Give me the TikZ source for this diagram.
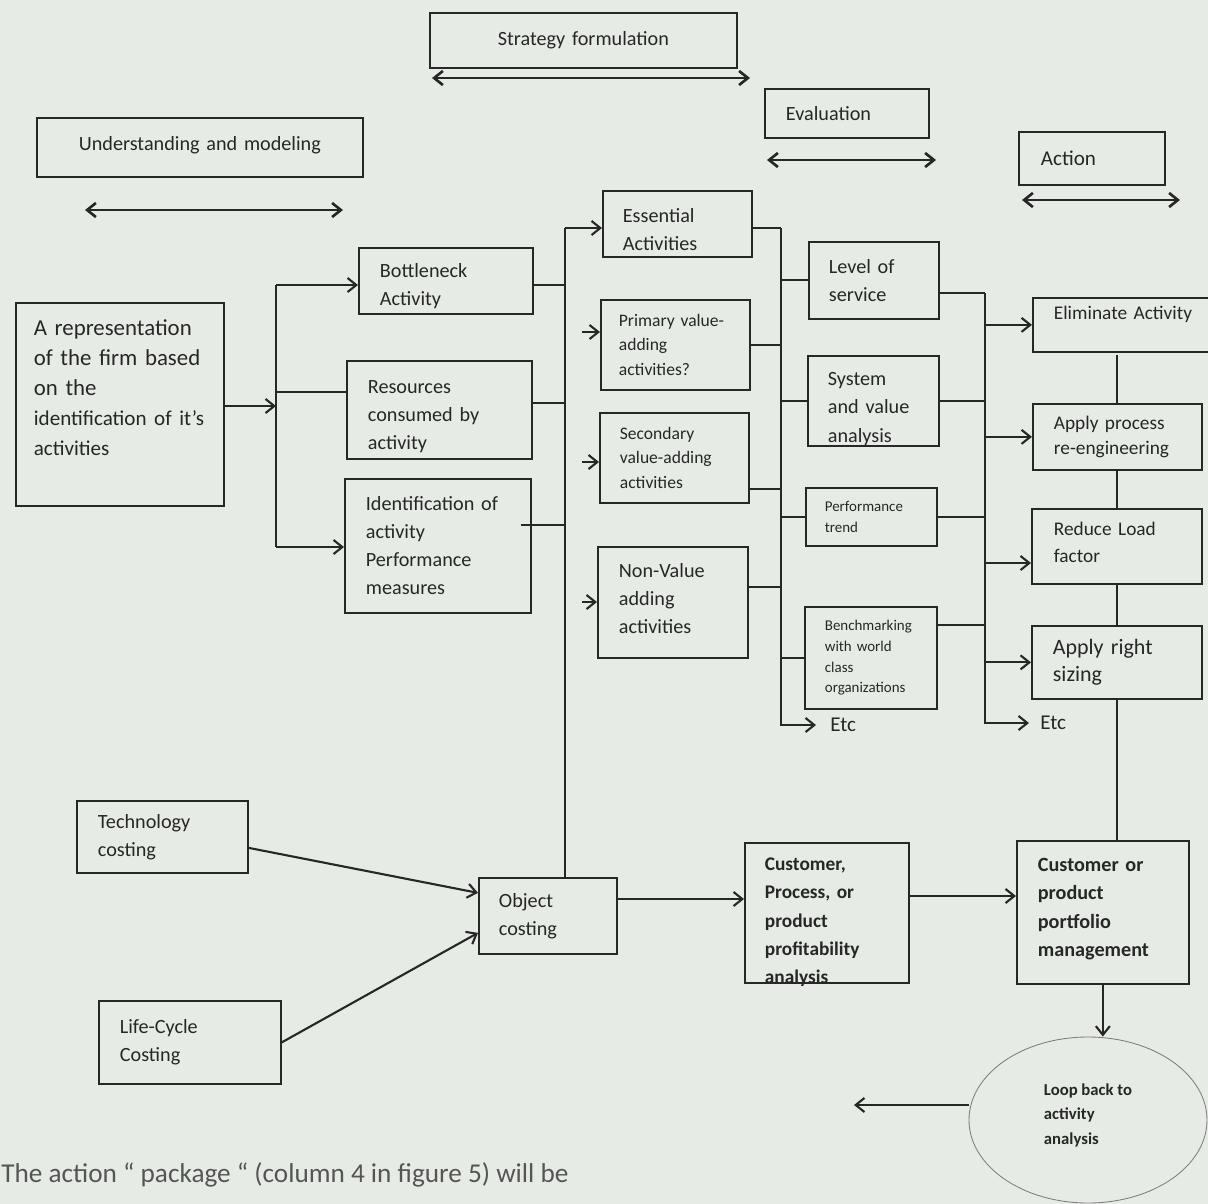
\documentclass[tikz,border=0pt]{standalone}
\usepackage{fontspec}
\setmainfont{Carlito}
\usetikzlibrary{arrows.meta,shapes.geometric}
\definecolor{paper}{RGB}{231,235,229}
\definecolor{ink}{RGB}{38,40,38}
\definecolor{faded}{RGB}{84,86,84}
\newdimen\pxu \pxu=0.02cm

\begin{document}
\begin{tikzpicture}[x=0.02cm, y=-0.02cm,
	box/.style={draw=ink, line width=1pt, anchor=north west, inner ysep=0pt, align=left, text=ink, font=\fontsize{11.5}{16}\selectfont},
	mid/.style={font=\fontsize{10}{13.8}\selectfont},
	small/.style={font=\fontsize{8.5}{11.8}\selectfont},
	line/.style={draw=ink, line width=1.2pt},
	arr/.style={line, -{Straight Barb[length=5pt,width=8pt]}},
	both/.style={line, line width=1.5pt, {Straight Barb[length=5pt,width=8pt]}-{Straight Barb[length=5pt,width=8pt]}}]

	% paper
	\fill[paper] (0,0) rectangle (1208,1204);
	\useasboundingbox (0,0) rectangle (1208,1204);

	% column headers
	\node[box, align=center, inner xsep=10\pxu, text width=287\pxu, minimum height=55\pxu] (strat) at (429,12) {Strategy formulation};
	\node[box, align=center, inner xsep=10\pxu, text width=306\pxu, minimum height=59\pxu] (under) at (36,117) {Understanding and modeling\rule[-8\pxu]{0pt}{0pt}};
	\node[box, inner xsep=21\pxu, text width=122\pxu, minimum height=49\pxu] (evalb) at (764,88) {Evaluation};
	\node[box, inner xsep=22\pxu, text width=102\pxu, minimum height=53\pxu, font=\fontsize{12}{16}\selectfont] (actb) at (1018,131) {Action};

	\coordinate (sL) at (432,78);  \coordinate (sR) at (750,78);
	\coordinate (uL) at (85,210);  \coordinate (uR) at (343,210);
	\coordinate (eL) at (767,160); \coordinate (eR) at (936,160);
	\coordinate (aL) at (1022,200); \coordinate (aR) at (1180,200);
	\draw[both] (sL) -- (sR);
	\draw[both] (uL) -- (uR);
	\draw[both] (eL) -- (eR);
	\draw[both] (aL) -- (aR);

	% understanding and modeling
	\node[box, inner xsep=18\pxu, text width=172\pxu, minimum height=203\pxu, font=\fontsize{13}{17}\selectfont] (repr) at (15,302)
		{A representation\\of the firm based\\on the\\\fontsize{12}{17}\selectfont identification of it’s\\activities\rule[-34\pxu]{0pt}{0pt}};
	\node[box, inner xsep=21\pxu, text width=132\pxu, minimum height=66\pxu] (bneck) at (358,247) {\rule{0pt}{14pt}Bottleneck\\Activity};
	\node[box, inner xsep=21\pxu, text width=143\pxu, minimum height=98\pxu] (res) at (346,360) {\rule{0pt}{15pt}Resources\\consumed by\\activity};
	\node[box, inner xsep=21\pxu, text width=144\pxu, minimum height=134\pxu] (ident) at (344,478) {Identification of\\activity\\Performance\\measures};

	\node[box, inner xsep=21\pxu, text width=129\pxu, minimum height=72\pxu] (tech) at (76,800) {Technology\\costing};
	\node[box, inner xsep=21\pxu, text width=140\pxu, minimum height=83\pxu] (life) at (98,1000) {Life-Cycle\\Costing};
	\node[box, inner xsep=20\pxu, text width=98\pxu, minimum height=76\pxu] (obj) at (478,877) {Object\\costing};

	% strategy formulation
	\node[box, inner xsep=20\pxu, text width=109\pxu, minimum height=66\pxu] (ess) at (602,190) {\rule{0pt}{14pt}Essential\\Activities};
	\node[box, mid, inner xsep=18\pxu, text width=113\pxu, minimum height=90\pxu] (prim) at (600,299) {Primary value-\\adding\\activities?};
	\node[box, mid, inner xsep=20\pxu, text width=109\pxu, minimum height=90\pxu] (sec) at (599,412) {Secondary\\value-adding\\activities};
	\node[box, inner xsep=21\pxu, text width=108\pxu, minimum height=111\pxu] (nonv) at (597,546) {Non-Value\\adding\\activities\rule[-8\pxu]{0pt}{0pt}};

	% evaluation
	\node[box, inner xsep=20\pxu, text width=90\pxu, minimum height=77\pxu] (lvl) at (808,241) {Level of\\service};
	\node[box, inner xsep=20\pxu, text width=91\pxu, minimum height=90\pxu, text height=30\pxu, text depth=60\pxu] (sys) at (807,355) {System\\and value\\analysis};
	\node[box, small, inner xsep=19\pxu, text width=93\pxu, minimum height=58\pxu] (perf) at (805,487) {Performance\\trend};
	\node[box, small, inner xsep=20\pxu, text width=92\pxu, minimum height=102\pxu] (bench) at (804,606) {Benchmarking\\with world\\class\\organizations};

	% action
	\node[box, inner xsep=21\pxu, text width=150\pxu, minimum height=54\pxu, font=\fontsize{11}{15}\selectfont] (elim) at (1032,297) {Eliminate Activity\rule[-24\pxu]{0pt}{0pt}};
	\node[box, inner xsep=21\pxu, text width=127\pxu, minimum height=66\pxu, font=\fontsize{11}{14.5}\selectfont] (proc) at (1032,403) {Apply process\\re-engineering};
	\node[box, inner xsep=22\pxu, text width=126\pxu, minimum height=75\pxu, font=\fontsize{11}{15.5}\selectfont] (redu) at (1031,508) {Reduce Load\\factor\rule[-8\pxu]{0pt}{0pt}};
	\node[box, inner xsep=21\pxu, text width=128\pxu, minimum height=73\pxu, font=\fontsize{12.5}{15.5}\selectfont] (rsize) at (1031,625) {Apply right\\sizing};

	% bottom row
	\node[box, inner xsep=20\pxu, text width=124\pxu, minimum height=140\pxu, text height=28\pxu, text depth=112\pxu, font=\bfseries\fontsize{11}{16}\selectfont] (cust) at (744,842) {Customer,\\Process, or\\product\\profitability\\analysis};
	\node[box, inner xsep=21\pxu, text width=130\pxu, minimum height=143\pxu, font=\bfseries\fontsize{11.5}{16.2}\selectfont] (port) at (1016,840) {Customer or\\product\\portfolio\\management\rule[-10\pxu]{0pt}{0pt}};
	\node[ellipse, draw=gray, line width=0.5pt, minimum width=238\pxu, minimum height=166\pxu, inner sep=0pt, align=left, text=ink, font=\bfseries\fontsize{9.5}{14}\selectfont] (loop) at (1088,1120) {Loop back to\\activity\\analysis\rule[-12\pxu]{0pt}{0pt}};

	\node[anchor=west, inner xsep=14\pxu, inner ysep=0pt, text=ink, font=\fontsize{12}{14}\selectfont] (etc1) at (816,725) {Etc};
	\node[anchor=west, inner xsep=11\pxu, inner ysep=0pt, text=ink, font=\fontsize{12}{14}\selectfont] (etc2) at (1029,723) {Etc};

	\node[anchor=base west, inner sep=0pt, text=faded, font=\fontsize{15.5}{18}\selectfont] (note) at (1,1182) {The action “ package “ (column 4 in figure 5) will be};

	% split from the representation
	\coordinate (a1) at (276,285);
	\coordinate (a2) at (276,392);
	\coordinate (a3) at (276,406);
	\coordinate (a4) at (276,547);
	\draw[line] (a1) -- (a4);
	\draw[arr] (repr.east |- a3) -- (a3);
	\draw[arr] (a1) -- (a1 -| bneck.west);
	\draw[line] (a2) -- (a2 -| res.west);
	\draw[arr] (a4) -- (a4 -| ident.west);

	% trunk to the activity classes
	\coordinate (b0) at (565,228);
	\coordinate (b1) at (565,285);
	\coordinate (b2) at (565,403);
	\coordinate (b3) at (565,525);
	\draw[line] (b0) -- (b0 |- obj.north);
	\draw[line] (bneck.east |- b1) -- (b1);
	\draw[line] (res.east |- b2) -- (b2);
	\draw[line] ([xshift=-11\pxu]ident.east |- b3) -- (b3);
	\draw[arr] (b0) -- (b0 -| ess.west);
	\coordinate (p1) at (582,332);
	\coordinate (p2) at (582,462);
	\coordinate (p3) at (582,602);
	\draw[arr] (p1) -- (p1 -| prim.west);
	\draw[arr] (p2) -- (p2 -| sec.west);
	\draw[arr] (p3) -- (p3 -| nonv.west);

	% trunk to the evaluation
	\coordinate (c0) at (781,228);
	\coordinate (c2) at (781,489);
	\coordinate (c3) at (781,587);
	\draw[arr] (c0) |- (etc1.west);
	\draw[line] (ess.east |- c0) -- (c0);
	\draw[line] (prim.east) -- (prim.east -| c0);
	\draw[line] (sec.east |- c2) -- (c2);
	\draw[line] (nonv.east |- c3) -- (c3);
	\draw[line] (c0 |- lvl.west) -- (lvl.west);
	\draw[line] (c0 |- sys.west) -- (sys.west);
	\draw[line] (c0 |- perf.west) -- (perf.west);
	\draw[line] (c0 |- bench.west) -- (bench.west);

	% trunk to the actions
	\coordinate (d0) at (985,293);
	\coordinate (d4) at (985,625);
	\coordinate (d5) at (985,563);
	\draw[arr] (d0) |- (etc2.west);
	\draw[line] (lvl.east |- d0) -- (d0);
	\draw[line] (sys.east) -- (sys.east -| d0);
	\draw[line] (perf.east) -- (perf.east -| d0);
	\draw[line] (bench.east |- d4) -- (d4);
	\draw[arr] (d0 |- elim.west) -- (elim.west);
	\draw[arr] (d0 |- proc.west) -- (proc.west);
	\draw[arr] (d5) -- (d5 -| redu.west);
	\draw[arr] (d0 |- rsize.west) -- (rsize.west);

	% action chain
	\coordinate (e0) at (1117,355);
	\draw[line] (e0) -- (e0 |- proc.north);
	\draw[line] (e0 |- proc.south) -- (e0 |- redu.north);
	\draw[line] (e0 |- redu.south) -- (e0 |- rsize.north);
	\draw[line] (e0 |- rsize.south) -- (e0 |- port.north);

	% costing inputs
	\draw[arr] ([yshift=-11\pxu]tech.east) -- ([yshift=23\pxu]obj.west);
	\draw[arr] (life.east) -- ([yshift=-17\pxu]obj.west);

	% bottom flow
	\coordinate (o1) at (616,899);
	\coordinate (o2) at (908,896);
	\coordinate (back) at (854,1105);
	\draw[arr] (obj.east |- o1) -- (o1 -| cust.west);
	\draw[arr] (cust.east |- o2) -- (o2 -| port.west);
	\draw[arr] (port.south) -- (port.south |- loop.north);
	\draw[arr] (loop.west |- back) -- (back);
\end{tikzpicture}
\end{document}
